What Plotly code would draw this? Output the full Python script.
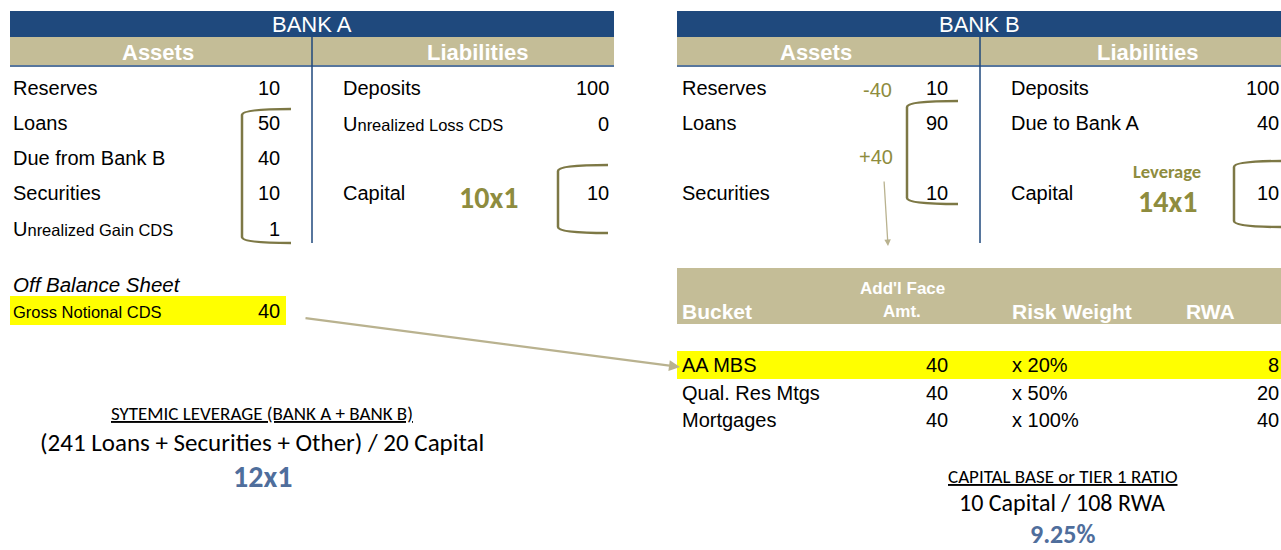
import plotly.graph_objects as go

# ---------------- data ----------------
bank_a_asset_labels = ["Reserves", "Loans", "Due from Bank B", "Securities", "Unrealized Gain CDS"]
bank_a_asset_values = [10, 50, 40, 10, 1]
bank_a_liab_labels = ["Deposits", "Unrealized Loss CDS", "Capital"]
bank_a_liab_values = [100, 0, 10]
bank_a_leverage = "10x1"

bank_b_asset_labels = ["Reserves", "Loans", "Securities"]
bank_b_asset_values = [10, 90, 10]
bank_b_asset_changes = ["-40", "+40"]
bank_b_liab_labels = ["Deposits", "Due to Bank A", "Capital"]
bank_b_liab_values = [100, 40, 10]
bank_b_leverage = "14x1"

off_bs_label = "Gross Notional CDS"
off_bs_value = 40

table_headers = ["Bucket", "Add'l Face<br>Amt.", "Risk Weight", "RWA"]
buckets = ["AA MBS", "Qual. Res Mtgs", "Mortgages"]
face_amts = [40, 40, 40]
risk_weights = [20, 50, 100]
rwa_values = [8, 20, 40]

systemic_title = "SYTEMIC LEVERAGE (BANK A + BANK B)"
systemic_formula = "(241 Loans + Securities + Other) / 20 Capital"
systemic_result = "12x1"
tier1_title = "CAPITAL BASE or TIER 1 RATIO"
tier1_formula = "10 Capital / 108 RWA"
tier1_result = "9.25%"

# ---------------- style ----------------
NAVY = "#1F497D"
TAN = "#C4BD97"
OLIVE = "#8E8C3E"
BRACKET = "#7D7845"
BLUE = "#4F6E9C"
ARROW = "#B9B28F"
YELLOW = "#FFFF00"
NARROW = "Liberation Sans Narrow, Arial Narrow, Liberation Sans, Arial"
CALIBRI = "Carlito, Calibri, Lato, sans-serif"

fig = go.Figure()
shapes = []
ann = []


def text(x, y, s, size=20, color="black", anchor="left", font=NARROW, vanchor="middle"):
    # compensate the small built-in annotation padding
    if anchor == "left":
        x -= 1
    ann.append(dict(x=min(x, 1281), y=y, xref="x", yref="y", text=s, showarrow=False,
                    xanchor=anchor, yanchor=vanchor, borderpad=0,
                    font=dict(family=font, size=size, color=color)))


def rect(x0, y0, x1, y1, color):
    shapes.append(dict(type="rect", xref="x", yref="y", x0=x0, y0=y0, x1=x1, y1=y1,
                       fillcolor=color, line=dict(width=0), layer="below"))


def line(x0, y0, x1, y1, color, width=1.5):
    shapes.append(dict(type="line", xref="x", yref="y", x0=x0, y0=y0, x1=x1, y1=y1,
                       line=dict(color=color, width=width)))


def bracket(xt, xv, y0, y1, color=BRACKET):
    path = (f"M {xt},{y0} Q {xv},{y0} {xv},{y0+6} L {xv},{y1-6} "
            f"Q {xv},{y1} {xt},{y1}")
    shapes.append(dict(type="path", xref="x", yref="y", path=path,
                       line=dict(color=color, width=2.5)))


def small_u(s):
    # larger first letter, smaller remainder (as in the original)
    return s[0] + f"<span style='font-size:16.5px'>{s[1:]}</span>"


def balance_header(x0, x1, xdiv, title, y_bottom, xa, xl):
    rect(x0, 11, x1, 37, NAVY)
    rect(x0, 37, x1, 65, TAN)
    line(x0, 66, x1, 66, NAVY, 1.5)
    line(xdiv, 37, xdiv, y_bottom, NAVY, 1.5)
    text((x0 + x1) / 2, 24, title, size=22, color="white", anchor="center")
    text(xa, 52, "<b>Assets</b>", size=22, color="white", anchor="center")
    text(xl, 52, "<b>Liabilities</b>", size=22, color="white", anchor="center")


# ---------------- Bank A ----------------
balance_header(10, 614, 312, "BANK A", 243, 158, 477)
rows_a = [88, 123, 158, 193, 229]
for lab, val, y in zip(bank_a_asset_labels, bank_a_asset_values, rows_a):
    s = small_u(lab) if lab.startswith("Unrealized") else lab
    text(13, y, s)
    text(281, y, str(val), anchor="right")
rows_al = [88, 124, 193]
for lab, val, y in zip(bank_a_liab_labels, bank_a_liab_values, rows_al):
    s = small_u(lab) if lab.startswith("Unrealized") else lab
    text(343, y, s)
    text(610, y, str(val), anchor="right")
text(488, 197, f"<b>{bank_a_leverage}</b>", size=30, color=OLIVE, anchor="center", font=CALIBRI)
bracket(291, 242, 109, 243)
bracket(608, 558, 165, 233)

# Off balance sheet
text(13, 284, "<i>Off Balance Sheet</i>", size=20.5)
rect(10, 296, 286, 325, YELLOW)
text(13, 312, off_bs_label, size=16.5)
text(281, 311, str(off_bs_value), anchor="right")

# connecting arrow to AA MBS
ann.append(dict(x=680, y=367, ax=304, ay=318, xref="x", yref="y", axref="x", ayref="y",
                text="", showarrow=True, arrowhead=2, arrowsize=1, arrowwidth=2.2,
                arrowcolor=ARROW))

# Systemic leverage
text(262, 413, f"<u>{systemic_title}</u>", size=19, font=CALIBRI, anchor="center")
text(262, 442, systemic_formula, size=25, font=CALIBRI, anchor="center")
text(262, 476, f"<b>{systemic_result}</b>", size=30, font=CALIBRI, color=BLUE, anchor="center")

# ---------------- Bank B ----------------
balance_header(677, 1281, 980, "BANK B", 243, 816, 1147)
rows_b = [88, 123, 193]
for lab, val, y in zip(bank_b_asset_labels, bank_b_asset_values, rows_b):
    text(682, y, lab)
    text(949, y, str(val), anchor="right")
text(877, 90, bank_b_asset_changes[0], color=OLIVE, anchor="center")
text(876, 157, bank_b_asset_changes[1], color=OLIVE, anchor="center")
for lab, val, y in zip(bank_b_liab_labels, bank_b_liab_values, rows_b):
    text(1011, y, lab)
    text(1280, y, str(val), anchor="right")
text(1167, 171, f"<b>Leverage</b>", size=18.5, color=OLIVE, anchor="center", font=CALIBRI)
text(1167, 201, f"<b>{bank_b_leverage}</b>", size=30, color=OLIVE, anchor="center", font=CALIBRI)
bracket(958, 907, 101, 204)
bracket(1284, 1234, 161, 227)
ann.append(dict(x=888, y=246, ax=884, ay=180, xref="x", yref="y", axref="x", ayref="y",
                text="", showarrow=True, arrowhead=2, arrowsize=1, arrowwidth=1.3,
                arrowcolor=ARROW))

# ---------------- RWA table ----------------
rect(677, 268, 1281, 324, TAN)
text(682, 311, f"<b>{table_headers[0]}</b>", size=21, color="white")
hdr2 = table_headers[1].split("<br>")
text(902, 288, f"<b>{hdr2[0]}</b>", size=17, color="white", anchor="center")
text(902, 311, f"<b>{hdr2[1]}</b>", size=17, color="white", anchor="center")
text(1012, 311, f"<b>{table_headers[2]}</b>", size=21, color="white")
text(1186, 311, f"<b>{table_headers[3]}</b>", size=21, color="white")
rect(677, 351, 1281, 379, YELLOW)
rows_t = [365, 393, 420]
for b, f, w, r, y in zip(buckets, face_amts, risk_weights, rwa_values, rows_t):
    text(682, y, b)
    text(949, y, str(f), anchor="right")
    text(1012, y, f"x {w}%")
    text(1280, y, str(r), anchor="right")

text(1062, 476, f"<u>{tier1_title}</u>", size=19, font=CALIBRI, anchor="center")
text(1062, 502, tier1_formula, size=24, font=CALIBRI, anchor="center")
text(1062, 534, f"<b>{tier1_result}</b>", size=26, font=CALIBRI, color=BLUE, anchor="center")

fig.update_layout(
    width=1281, height=550,
    margin=dict(l=0, r=0, t=0, b=0),
    paper_bgcolor="white", plot_bgcolor="white",
    xaxis=dict(range=[0, 1281], visible=False, fixedrange=True),
    yaxis=dict(range=[550, 0], visible=False, fixedrange=True),
    shapes=shapes, annotations=ann, showlegend=False,
)
fig.write_html(
    "out.html",
    config={"displayModeBar": False},
    post_script="document.body.style.margin='0';document.body.style.overflow='hidden';",
)
